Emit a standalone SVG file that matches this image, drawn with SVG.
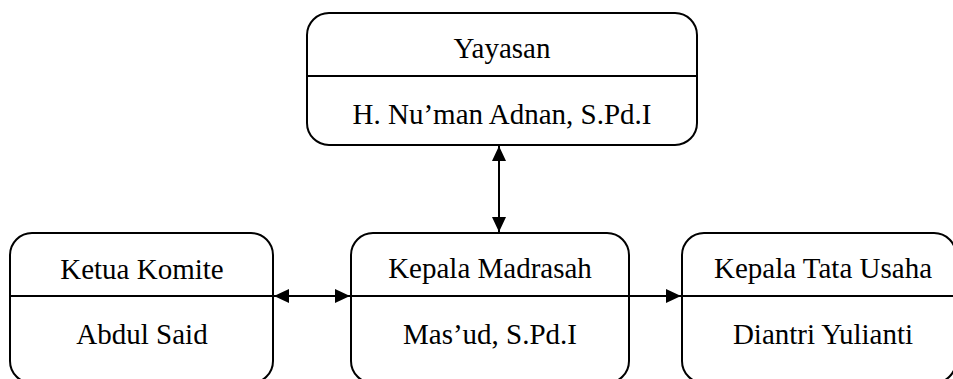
<svg xmlns="http://www.w3.org/2000/svg" width="953" height="379" viewBox="0 0 953 379">
<style>
.box{fill:#fff;stroke:#000;stroke-width:2}
.div{stroke:#000;stroke-width:2}
.t{font-family:'Liberation Serif','Times New Roman',serif;font-size:29px;fill:#000;text-anchor:middle}
.c{stroke:#000;stroke-width:2;fill:none}
</style>
<defs>
<marker id="ah" markerUnits="userSpaceOnUse" markerWidth="16" markerHeight="14" refX="15" refY="7" orient="auto-start-reverse">
<path d="M0,0 L15,7 L0,14 z" fill="#000"/>
</marker>
</defs>
<rect width="953" height="379" fill="#fff"/>
<g id="yayasan" font-family="Liberation Serif, serif">
<rect class="box" x="307" y="13" width="390" height="132" rx="22" ry="22"/>
<line class="div" x1="307" y1="76" x2="697" y2="76"/>
<text class="t" x="502" y="58">Yayasan</text>
<text class="t" x="502" y="124">H. Nu’man Adnan, S.Pd.I</text>
</g>
<g id="ketua-komite" font-family="Liberation Serif, serif">
<rect class="box" x="10" y="233" width="263" height="150" rx="22" ry="22"/>
<line class="div" x1="10" y1="296" x2="273" y2="296"/>
<text class="t" x="142" y="279">Ketua Komite</text>
<text class="t" x="142" y="344">Abdul Said</text>
</g>
<g id="kepala-madrasah" font-family="Liberation Serif, serif">
<rect class="box" x="351" y="233" width="278" height="150" rx="22" ry="22"/>
<line class="div" x1="351" y1="296" x2="629" y2="296"/>
<text class="t" x="490" y="278">Kepala Madrasah</text>
<text class="t" x="490" y="344">Mas’ud, S.Pd.I</text>
</g>
<g id="kepala-tata-usaha" font-family="Liberation Serif, serif">
<rect class="box" x="682" y="233" width="274" height="150" rx="22" ry="22"/>
<line class="div" x1="682" y1="296" x2="956" y2="296"/>
<text class="t" x="823" y="278">Kepala Tata Usaha</text>
<text class="t" x="823" y="344">Diantri Yulianti</text>
</g>
<g id="connectors">
<line class="c" x1="499" y1="146" x2="499" y2="232" marker-start="url(#ah)" marker-end="url(#ah)"/>
<line class="c" x1="274" y1="296" x2="350" y2="296" marker-start="url(#ah)" marker-end="url(#ah)"/>
<line class="c" x1="630" y1="296" x2="681" y2="296" marker-end="url(#ah)"/>
</g>
</svg>
